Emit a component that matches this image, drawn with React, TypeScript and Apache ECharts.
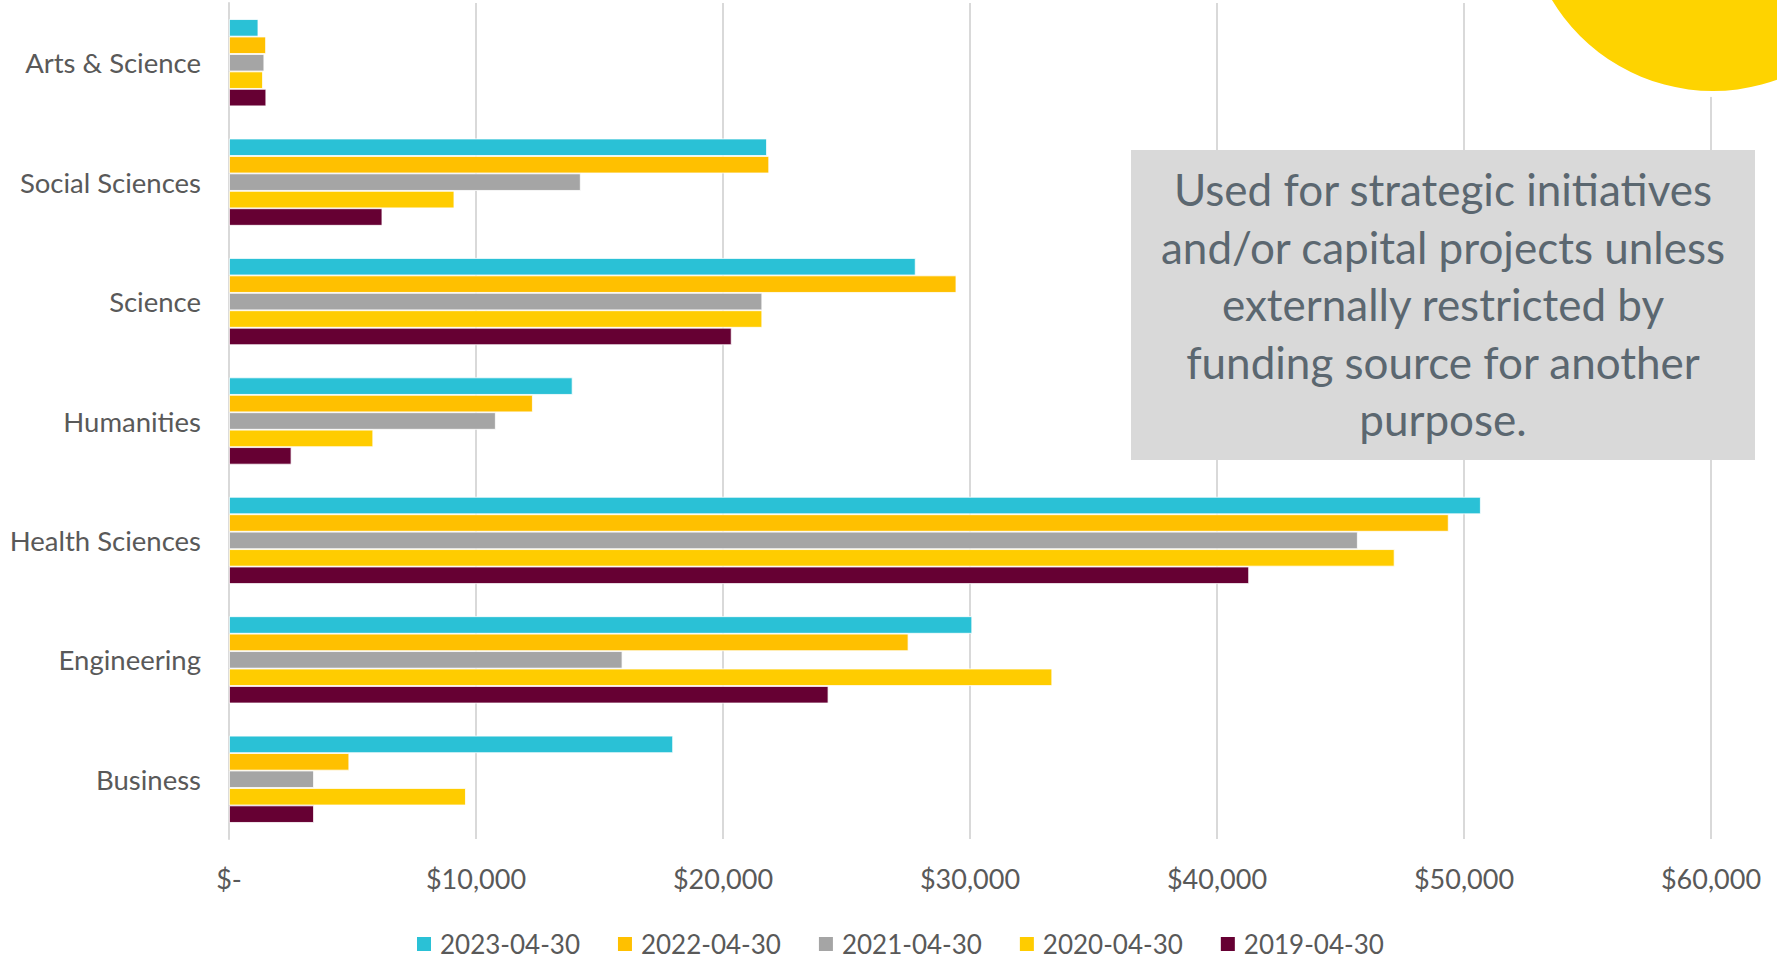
import React, { useEffect, useRef } from "react";
import * as echarts from "echarts";

const categories = ["Business", "Engineering", "Health Sciences", "Humanities", "Science", "Social Sciences", "Arts & Science"];
const seriesNames = ["2023-04-30", "2022-04-30", "2021-04-30", "2020-04-30", "2019-04-30"];
const v2023 = [17980, 30090, 50680, 13910, 27800, 21780, 1190];
const v2022 = [4870, 27510, 49380, 12300, 29450, 21870, 1500];
const v2021 = [3440, 15930, 45700, 10800, 21590, 14240, 1430];
const v2020 = [9590, 33330, 47190, 5840, 21590, 9125, 1375];
const v2019 = [3440, 24270, 41300, 2530, 20350, 6210, 1510];
const seriesValues = [v2023, v2022, v2021, v2020, v2019];
const colors = ["#2AC1D6", "#FFC000", "#A5A5A5", "#FFCC00", "#660033"];
const xTicks = { min: 0, max: 60000, interval: 10000 };
const noteText = "Used for strategic initiatives\nand/or capital projects unless\nexternally restricted by\nfunding source for another\npurpose.";

export default function App() {
  const ref = useRef<HTMLDivElement>(null);
  useEffect(() => {
    if (!ref.current) return;
    const chart = echarts.init(ref.current, undefined, { renderer: "svg" });
    const font = "Lato";
    chart.setOption({
      animation: false,
      backgroundColor: "#ffffff",
      textStyle: { fontFamily: font },
      grid: { left: 229, right: 66, top: 3, bottom: 127, containLabel: false },
      legend: {
        data: seriesNames,
        left: 410,
        top: 926,
        icon: "rect",
        itemWidth: 16,
        itemHeight: 16,
        itemGap: 36,
        textStyle: { fontFamily: font, fontSize: 26, color: "#595959", lineHeight: 26, padding: [0, 0, 0, 3] },
      },
      xAxis: {
        type: "value",
        min: xTicks.min,
        max: xTicks.max,
        interval: xTicks.interval,
        axisLine: { show: false },
        axisTick: { show: false },
        splitLine: { show: true, lineStyle: { color: "#D9D9D9", width: 2 } },
        axisLabel: {
          fontFamily: font,
          fontSize: 27,
          color: "#595959",
          margin: 26,
          lineHeight: 27,
          formatter: (v: number) => (v === 0 ? "$-" : "$" + v.toLocaleString("en-US")),
        },
      },
      yAxis: {
        type: "category",
        data: categories,
        axisLine: { show: true, lineStyle: { color: "#D9D9D9", width: 2 } },
        axisTick: { show: false },
        axisLabel: { fontFamily: font, fontSize: 27.5, color: "#595959", margin: 28 },
      },
      series: seriesNames.map((name, i) => ({
        name,
        type: "bar",
        data: seriesValues[i],
        barGap: "0%",
        barCategoryGap: "27%",
        itemStyle: { color: colors[i], borderColor: "#ffffff", borderWidth: 0.8 },
      })),
      graphic: [
        { type: "circle", z: 100, shape: { cx: 1713, cy: -97, r: 194 }, style: { fill: "#ffffff" } },
        { type: "circle", z: 101, shape: { cx: 1713, cy: -97, r: 188 }, style: { fill: "#FED300" } },
        { type: "rect", z: 100, shape: { x: 1131, y: 150, width: 624, height: 310 }, style: { fill: "#D9D9D9" } },
        {
          type: "text",
          z: 101,
          x: 1443,
          y: 304,
          style: {
            text: noteText,
            fontFamily: font,
            fontSize: 44,
            lineHeight: 57.5,
            fill: "#5B6770",
            align: "center",
            verticalAlign: "middle",
          },
        },
      ],
    });
    return () => chart.dispose();
  }, []);
  return <div ref={ref} style={{ position: "fixed", left: 0, top: 0, width: 1777, height: 966 }} />;
}
